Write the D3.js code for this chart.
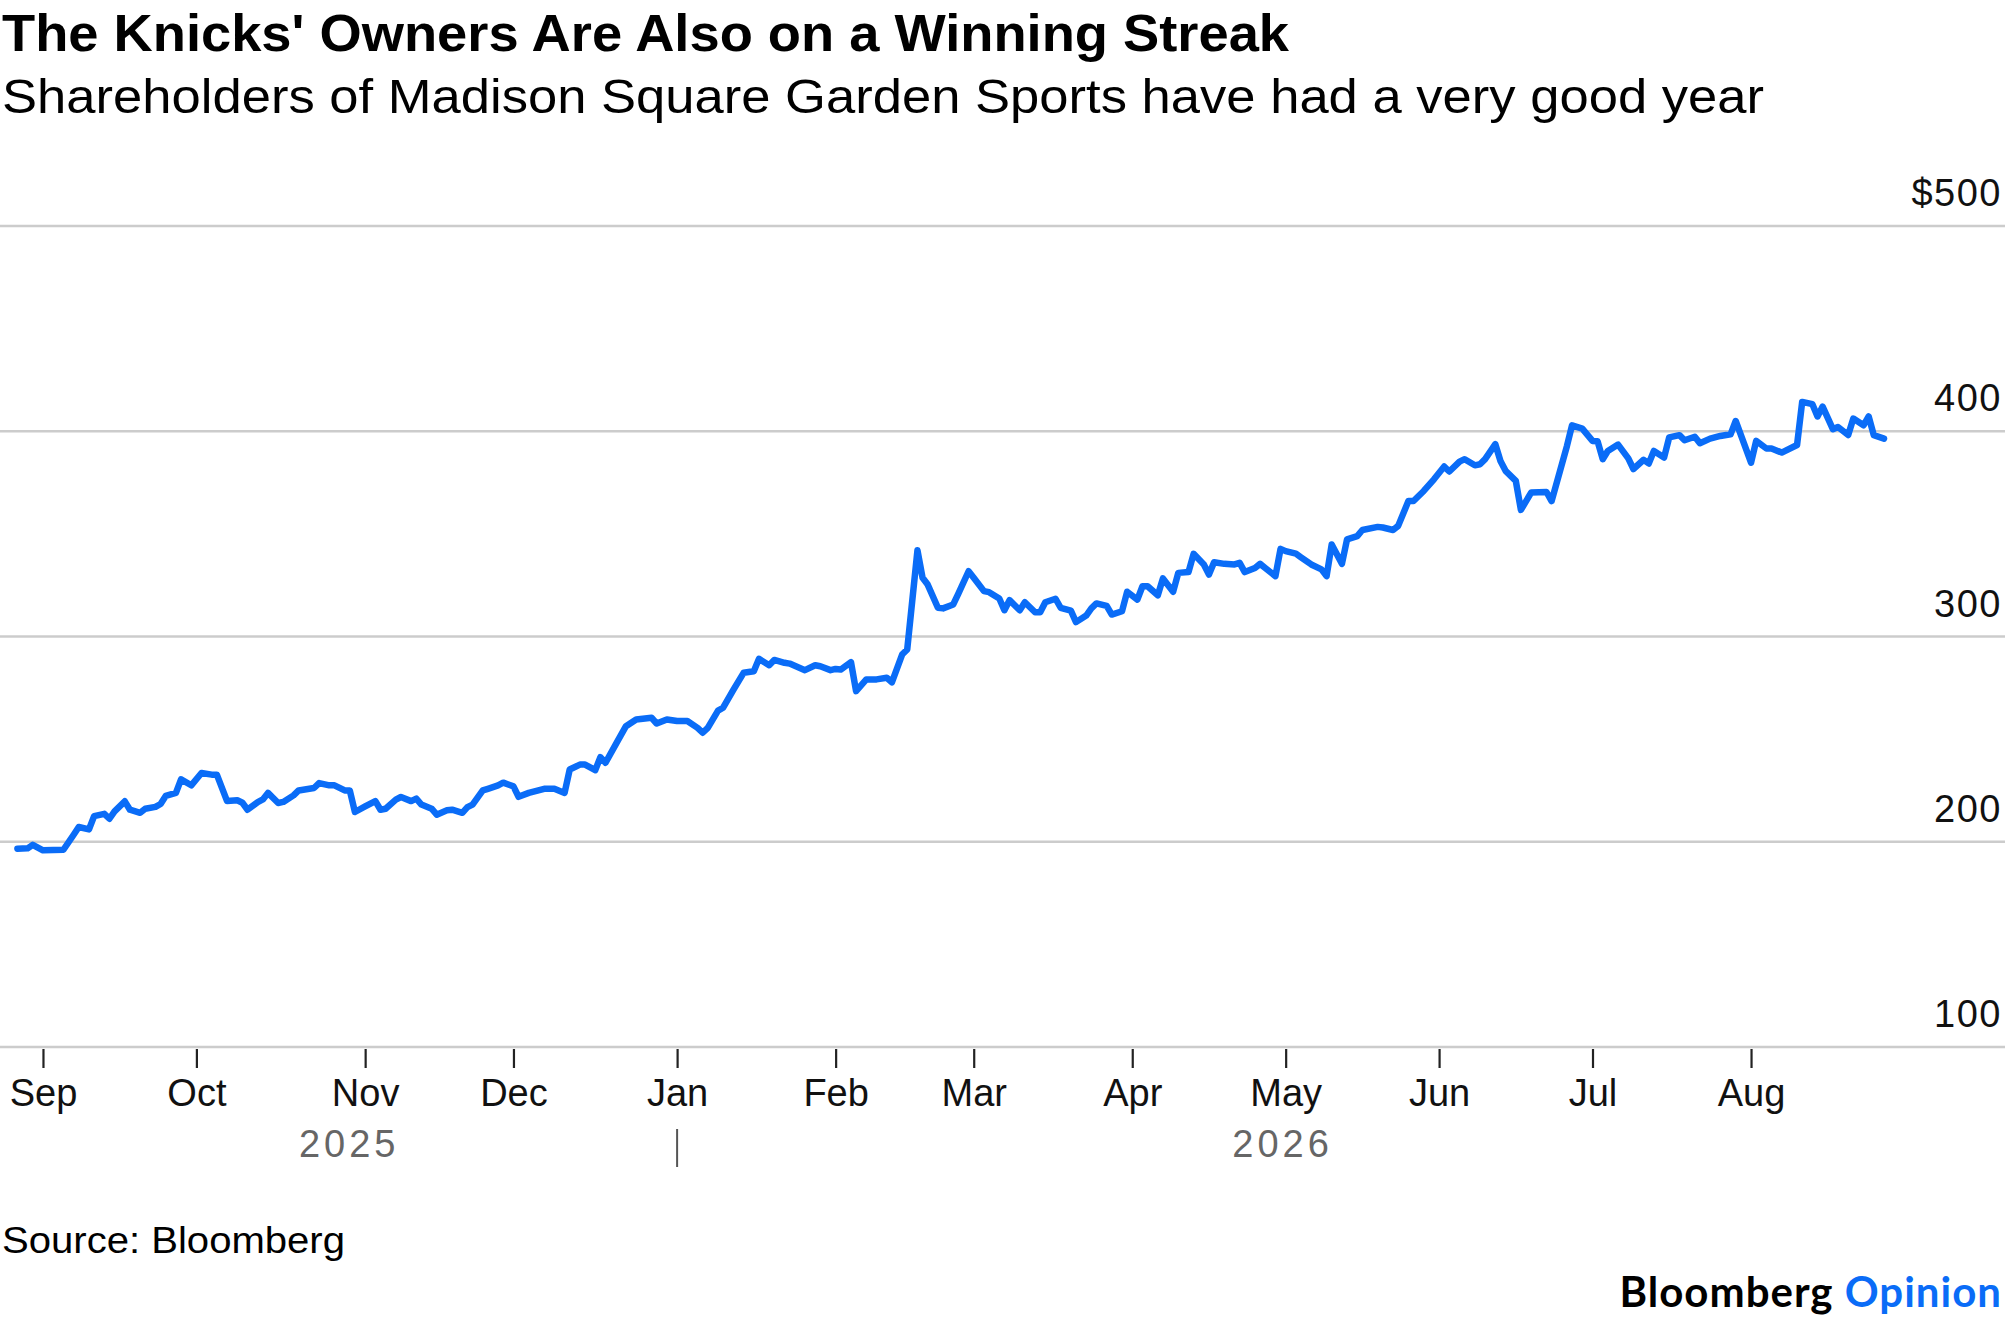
<!DOCTYPE html>
<html>
<head>
<meta charset="utf-8">
<script src="https://cdn.jsdelivr.net/npm/d3@7"></script>
<style>
  body { margin: 0; background: #fff; }
  svg text { font-family: "Liberation Sans", Arial, Helvetica, sans-serif; }
</style>
</head>
<body>
<div id="chart"></div>
<script>
// closing prices
const dates = [
  "2025-08-27","2025-08-29","2025-08-30","2025-09-01","2025-09-05","2025-09-07","2025-09-08","2025-09-10",
  "2025-09-11","2025-09-13","2025-09-14","2025-09-15","2025-09-17","2025-09-18","2025-09-20","2025-09-21",
  "2025-09-23","2025-09-24","2025-09-25","2025-09-27","2025-09-28","2025-09-30","2025-10-02","2025-10-04",
  "2025-10-05","2025-10-07","2025-10-09","2025-10-10","2025-10-11","2025-10-13","2025-10-14","2025-10-15",
  "2025-10-17","2025-10-18","2025-10-20","2025-10-21","2025-10-24","2025-10-25","2025-10-27","2025-10-28",
  "2025-10-30","2025-10-31","2025-11-01","2025-11-03","2025-11-05","2025-11-06","2025-11-07","2025-11-09",
  "2025-11-10","2025-11-12","2025-11-13","2025-11-14","2025-11-16","2025-11-17","2025-11-19","2025-11-20",
  "2025-11-22","2025-11-23","2025-11-24","2025-11-26","2025-11-27","2025-11-29","2025-11-30","2025-12-02",
  "2025-12-03","2025-12-05","2025-12-08","2025-12-10","2025-12-12","2025-12-13","2025-12-15","2025-12-16",
  "2025-12-18","2025-12-19","2025-12-20","2025-12-22","2025-12-24","2025-12-26","2025-12-29","2025-12-30",
  "2026-01-01","2026-01-03","2026-01-05","2026-01-07","2026-01-08","2026-01-09","2026-01-11","2026-01-12",
  "2026-01-14","2026-01-16","2026-01-18","2026-01-19","2026-01-21","2026-01-22","2026-01-24","2026-01-25",
  "2026-01-27","2026-01-28","2026-01-30","2026-01-31","2026-02-02","2026-02-03","2026-02-04","2026-02-06",
  "2026-02-07","2026-02-09","2026-02-11","2026-02-13","2026-02-14","2026-02-16","2026-02-17","2026-02-19",
  "2026-02-20","2026-02-21","2026-02-23","2026-02-24","2026-02-26","2026-02-27","2026-03-01","2026-03-02",
  "2026-03-04","2026-03-05","2026-03-07","2026-03-08","2026-03-09","2026-03-11","2026-03-12","2026-03-14",
  "2026-03-15","2026-03-16","2026-03-18","2026-03-19","2026-03-21","2026-03-22","2026-03-24","2026-03-25",
  "2026-03-26","2026-03-28","2026-03-29","2026-03-31","2026-04-01","2026-04-03","2026-04-04","2026-04-05",
  "2026-04-07","2026-04-08","2026-04-10","2026-04-11","2026-04-13","2026-04-14","2026-04-16","2026-04-17",
  "2026-04-18","2026-04-20","2026-04-22","2026-04-23","2026-04-24","2026-04-26","2026-04-27","2026-04-28",
  "2026-04-30","2026-05-01","2026-05-02","2026-05-04","2026-05-05","2026-05-07","2026-05-09","2026-05-10",
  "2026-05-11","2026-05-13","2026-05-14","2026-05-16","2026-05-17","2026-05-20","2026-05-21","2026-05-23",
  "2026-05-24","2026-05-26","2026-05-27","2026-05-29","2026-05-31","2026-06-02","2026-06-03","2026-06-05",
  "2026-06-06","2026-06-08","2026-06-09","2026-06-10","2026-06-12","2026-06-13","2026-06-14","2026-06-16",
  "2026-06-17","2026-06-19","2026-06-22","2026-06-23","2026-06-26","2026-06-27","2026-06-29","2026-07-01",
  "2026-07-02","2026-07-03","2026-07-04","2026-07-06","2026-07-08","2026-07-09","2026-07-11","2026-07-12",
  "2026-07-13","2026-07-15","2026-07-16","2026-07-18","2026-07-19","2026-07-21","2026-07-22","2026-07-24",
  "2026-07-26","2026-07-28","2026-07-29","2026-08-01","2026-08-02","2026-08-04","2026-08-05","2026-08-07",
  "2026-08-10","2026-08-11","2026-08-13","2026-08-14","2026-08-15","2026-08-17","2026-08-18","2026-08-20",
  "2026-08-21","2026-08-23","2026-08-24","2026-08-25","2026-08-27"
];

const prices = [
  196.6,196.8,198.5,195.8,196.1,203.4,207.2,206.0,
  212.5,213.6,211.2,214.8,219.7,215.6,214.1,216.1,
  217.0,218.4,222.3,223.8,230.4,227.5,233.5,232.7,
  232.7,219.8,220.2,219.0,215.6,219.3,220.6,223.8,
  218.9,219.4,222.6,225.0,226.2,228.6,227.5,227.5,
  225.0,225.0,214.5,217.2,219.8,215.6,216.1,220.5,
  221.8,219.8,221.0,218.1,216.1,213.2,215.3,215.6,
  214.1,216.9,218.1,225.0,225.8,227.5,228.8,227.0,
  221.9,223.8,225.8,225.8,223.8,235.2,237.6,237.6,
  234.9,241.2,238.5,247.4,256.3,259.6,260.4,257.6,
  259.6,258.8,258.8,255.5,253.1,255.5,263.9,265.3,
  274.0,282.3,283.1,289.1,286.0,288.6,287.2,286.8,
  284.7,283.6,286.0,285.5,283.6,284.2,283.9,287.5,
  273.4,279.1,279.1,279.9,277.7,291.2,293.7,342.0,
  328.6,325.3,314.0,313.7,315.6,320.9,331.8,328.6,
  322.1,321.6,318.5,312.8,317.7,312.8,316.7,311.8,
  311.8,316.7,318.4,314.0,312.6,307.0,310.2,313.7,
  316.1,314.9,310.7,312.3,321.8,318.0,324.5,324.5,
  320.1,328.3,321.8,331.0,331.4,340.3,335.1,330.2,
  336.2,335.4,335.1,335.9,331.4,333.4,335.4,333.4,
  329.4,342.7,341.6,340.4,338.6,335.1,332.7,329.4,
  344.8,335.4,347.3,348.9,351.9,353.4,353.1,351.9,
  353.9,366.0,366.0,370.9,376.6,382.8,380.4,385.2,
  386.4,383.4,383.9,386.4,393.7,385.5,380.7,375.8,
  361.7,370.1,370.4,366.0,392.8,402.9,401.3,395.3,
  395.1,386.4,390.4,393.5,386.8,381.6,386.1,384.3,
  390.4,387.2,397.0,398.1,395.6,397.3,394.2,396.4,
  397.7,398.5,405.0,384.7,395.3,391.6,391.6,389.6,
  393.3,414.3,413.2,407.2,412.0,401.0,402.1,398.2,
  406.2,402.9,407.2,398.1,396.4
];

// month ticks sit on the first trading session of each month
const monthTicks = ["2025-09-01","2025-10-01","2025-11-03","2025-12-02","2026-01-03","2026-02-03",
  "2026-03-02","2026-04-02","2026-05-02","2026-06-01","2026-07-01","2026-08-01"];
const monthLabels = ["Sep","Oct","Nov","Dec","Jan","Feb","Mar","Apr","May","Jun","Jul","Aug"];
const yTicks = [100, 200, 300, 400, 500];
const yTickLabels = ["100", "200", "300", "400", "$500"];
const yearLabels = ["2025", "2026"];
const yearBreak = "2026-01-03";

const W = 2005, H = 1323;
const parse = d3.timeParse("%Y-%m-%d");
const data = dates.map((d, i) => ({ date: parse(d), value: prices[i] }));

const svg = d3.select("#chart").append("svg")
  .attr("width", W)
  .attr("height", H)
  .style("display", "block")
  .style("background", "#fff");

const x = d3.scaleTime()
  .domain(d3.extent(data, d => d.date))
  .range([17.4, 1884]);

const y = d3.scaleLinear()
  .domain([100, 500])
  .range([1047, 226]);

// header
svg.append("text")
  .attr("x", 2).attr("y", 51)
  .attr("font-size", 52).attr("font-weight", 700)
  .attr("textLength", 1287).attr("lengthAdjust", "spacingAndGlyphs")
  .attr("fill", "#000")
  .text("The Knicks' Owners Are Also on a Winning Streak");

svg.append("text")
  .attr("x", 2).attr("y", 113)
  .attr("font-size", 49)
  .attr("textLength", 1762).attr("lengthAdjust", "spacingAndGlyphs")
  .attr("fill", "#000")
  .text("Shareholders of Madison Square Garden Sports have had a very good year");

// gridlines + y labels
const grid = svg.append("g");
grid.selectAll("line")
  .data(yTicks)
  .enter().append("line")
  .attr("x1", 0).attr("x2", W)
  .attr("y1", d => y(d)).attr("y2", d => y(d))
  .attr("stroke", "#cccccc")
  .attr("stroke-width", 2.5);

grid.selectAll("text")
  .data(yTicks)
  .enter().append("text")
  .attr("x", 2002)
  .attr("y", d => y(d) - 20)
  .attr("text-anchor", "end")
  .attr("font-size", 38)
  .attr("letter-spacing", 1.5)
  .attr("fill", "#111")
  .text((d, i) => yTickLabels[i]);

// x axis
const xAxis = d3.axisBottom(x)
  .tickValues(monthTicks.map(parse))
  .tickFormat((d, i) => monthLabels[i])
  .tickSize(19)
  .tickPadding(11);

const ax = svg.append("g")
  .attr("transform", "translate(0," + 1049 + ")")
  .call(xAxis);
ax.select(".domain").remove();
ax.selectAll(".tick line").attr("stroke", "#222").attr("stroke-width", 2.2);
ax.selectAll(".tick text")
  .attr("font-family", "Liberation Sans, Arial, sans-serif")
  .attr("font-size", 38)
  .attr("fill", "#111")
  .attr("dy", "0.71em");

// year labels
const yb = x(parse(yearBreak));
const [x0, x1] = x.range();
const yearPos = [(x0 + yb) / 2 + 2, (yb + x1) / 2 + 2];
svg.selectAll(".year")
  .data(yearLabels)
  .enter().append("text")
  .attr("class", "year")
  .attr("x", (d, i) => yearPos[i])
  .attr("y", 1157)
  .attr("text-anchor", "middle")
  .attr("font-size", 38)
  .attr("letter-spacing", 4)
  .attr("fill", "#666")
  .text(d => d);

svg.append("line")
  .attr("x1", yb).attr("x2", yb)
  .attr("y1", 1129).attr("y2", 1167)
  .attr("stroke", "#555")
  .attr("stroke-width", 2);

// price line
const line = d3.line()
  .x(d => x(d.date))
  .y(d => y(d.value));

svg.append("path")
  .datum(data)
  .attr("fill", "none")
  .attr("stroke", "#0a6cf7")
  .attr("stroke-width", 6.5)
  .attr("stroke-linejoin", "round")
  .attr("stroke-linecap", "round")
  .attr("d", line);

// footer
svg.append("text")
  .attr("x", 2).attr("y", 1253)
  .attr("font-size", 37)
  .attr("textLength", 343).attr("lengthAdjust", "spacingAndGlyphs")
  .attr("fill", "#000")
  .text("Source: Bloomberg");

const brand = svg.append("text")
  .attr("x", 2002).attr("y", 1307)
  .attr("text-anchor", "end")
  .attr("font-size", 42)
  .attr("font-weight", 700)
  .attr("letter-spacing", 1)
  .style("font-family", "Lato, 'Noto Sans', sans-serif");
brand.append("tspan").attr("fill", "#000").text("Bloomberg ");
brand.append("tspan").attr("fill", "#0a6cf7").text("Opinion");
</script>
</body>
</html>
